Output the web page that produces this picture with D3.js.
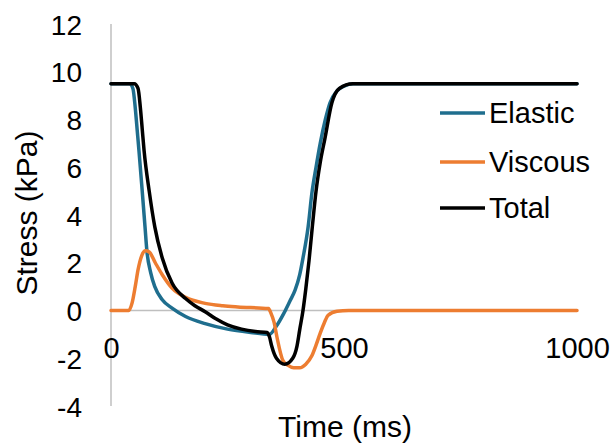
<!DOCTYPE html>
<html>
<head>
<meta charset="utf-8">
<script src="https://cdn.jsdelivr.net/npm/d3@7"></script>
<style>
  html, body { margin: 0; padding: 0; background: #fff; }
  svg { display: block; font-family: "Liberation Sans", Arial, sans-serif; }
</style>
</head>
<body>
<svg id="chart" width="615" height="444"></svg>
<script>
// Stress components over one loading cycle (time in ms, stress in kPa)
const elasticT = [0, 40, 47, 52, 56, 60, 67, 73, 77, 85, 94, 110, 131, 160, 202, 250, 300, 340, 355, 370, 384, 395, 405, 412, 423, 431, 440, 449, 460, 470, 485, 500, 520, 1000];
const elasticS = [9.5, 9.5, 9.3, 8.5, 7.6, 6.7, 5.0, 3.5, 2.5, 1.6, 1.0, 0.45, 0.1, -0.25, -0.55, -0.78, -0.92, -1.0, -0.65, -0.15, 0.4, 0.85, 1.5, 2.2, 3.5, 4.9, 6.0, 7.0, 8.0, 8.7, 9.2, 9.4, 9.5, 9.5];

const viscousT = [0, 38, 45, 52, 58, 66, 74, 82, 95, 110, 131, 160, 202, 240, 272, 338, 343, 350, 356, 369, 380, 392, 405, 418, 431, 440, 449, 458, 466, 485, 510, 1000];
const viscousS = [0, 0, 0.3, 1.0, 1.7, 2.3, 2.5, 2.45, 2.0, 1.5, 0.94, 0.55, 0.3, 0.2, 0.15, 0.08, -0.1, -0.5, -1.1, -2.1, -2.3, -2.4, -2.4, -2.25, -1.9, -1.45, -0.95, -0.5, -0.2, -0.03, 0, 0];

const totalT = [0, 50, 58, 63, 67, 71, 82, 94, 110, 131, 160, 180, 202, 225, 250, 280, 310, 335, 340, 345, 355, 373, 390, 399, 405, 412, 418, 425, 432, 440, 449, 459, 474, 490, 519, 1000];
const totalS = [9.5, 9.5, 9.3, 8.5, 7.6, 6.7, 5.0, 3.5, 2.2, 1.15, 0.5, 0.2, -0.05, -0.35, -0.6, -0.78, -0.88, -0.92, -1.1, -1.5, -2.0, -2.25, -2.0, -1.5, -0.8, 0.0, 0.9, 2.1, 3.5, 5.0, 6.2, 7.2, 8.7, 9.3, 9.5, 9.5];

const seriesNames = ["Elastic", "Viscous", "Total"];
const seriesColors = ["#1F6E8E", "#ED7D31", "#000000"];

const xTicks = [0, 500, 1000];
const yTicks = [-4, -2, 0, 2, 4, 6, 8, 10, 12];

const svg = d3.select("#chart");

const x = d3.scaleLinear().domain([0, 1000]).range([111, 577]);
const y = d3.scaleLinear().domain([-4, 12]).range([406, 24]);

// Axis lines: vertical at t = 0, horizontal at stress = 0
svg.append("line")
  .attr("x1", x(0)).attr("x2", x(0))
  .attr("y1", y(12)).attr("y2", y(-4))
  .attr("stroke", "#BFBFBF").attr("stroke-width", 1.5);
svg.append("line")
  .attr("x1", x(0)).attr("x2", x(1000))
  .attr("y1", y(0)).attr("y2", y(0))
  .attr("stroke", "#BFBFBF").attr("stroke-width", 1.5);

// Y tick labels
const yAxis = d3.axisLeft(y).tickValues(yTicks).tickSize(0).tickPadding(0).tickFormat(d3.format("d"));
const yG = svg.append("g").attr("transform", "translate(82,0)").call(yAxis);
yG.select(".domain").remove();
yG.selectAll("text")
  .attr("font-size", 28).attr("fill", "#000")
  .attr("font-family", "Liberation Sans, Arial, sans-serif")
  .attr("dy", "0.36em")
  .text(d => d < 0 ? "-" + Math.abs(d) : d);

// X tick labels, hung just below the zero line
const xAxis = d3.axisBottom(x).tickValues(xTicks).tickSize(0).tickPadding(0).tickFormat(d3.format("d"));
const xG = svg.append("g").attr("transform", `translate(0,${y(0) + 47})`).call(xAxis);
xG.select(".domain").remove();
xG.selectAll("text")
  .attr("font-size", 29).attr("fill", "#000")
  .attr("font-family", "Liberation Sans, Arial, sans-serif")
  .attr("y", 0).attr("dy", 0);

// Axis titles
svg.append("text")
  .attr("x", 345).attr("y", 437)
  .attr("text-anchor", "middle")
  .attr("font-size", 30)
  .text("Time (ms)");
svg.append("text")
  .attr("transform", "translate(37,213) rotate(-90)")
  .attr("text-anchor", "middle")
  .attr("font-size", 30)
  .text("Stress (kPa)");

// Series lines
const line = d3.line()
  .x(d => x(d[0]))
  .y(d => y(d[1]))
  .curve(d3.curveMonotoneX);

const seriesData = [
  d3.zip(elasticT, elasticS),
  d3.zip(viscousT, viscousS),
  d3.zip(totalT, totalS)
];

seriesData.forEach((pts, i) => {
  svg.append("path")
    .datum(pts)
    .attr("d", line)
    .attr("fill", "none")
    .attr("stroke", seriesColors[i])
    .attr("stroke-width", 3.5)
    .attr("stroke-linejoin", "round")
    .attr("stroke-linecap", "round");
});

// Legend
const legendY = [113, 162, 208];
const legend = svg.append("g");
seriesNames.forEach((name, i) => {
  legend.append("line")
    .attr("x1", 440).attr("x2", 485)
    .attr("y1", legendY[i]).attr("y2", legendY[i])
    .attr("stroke", seriesColors[i]).attr("stroke-width", 3.5);
  legend.append("text")
    .attr("x", 489).attr("y", legendY[i])
    .attr("dy", "0.36em")
    .attr("font-size", 29)
    .text(name);
});
</script>
</body>
</html>
